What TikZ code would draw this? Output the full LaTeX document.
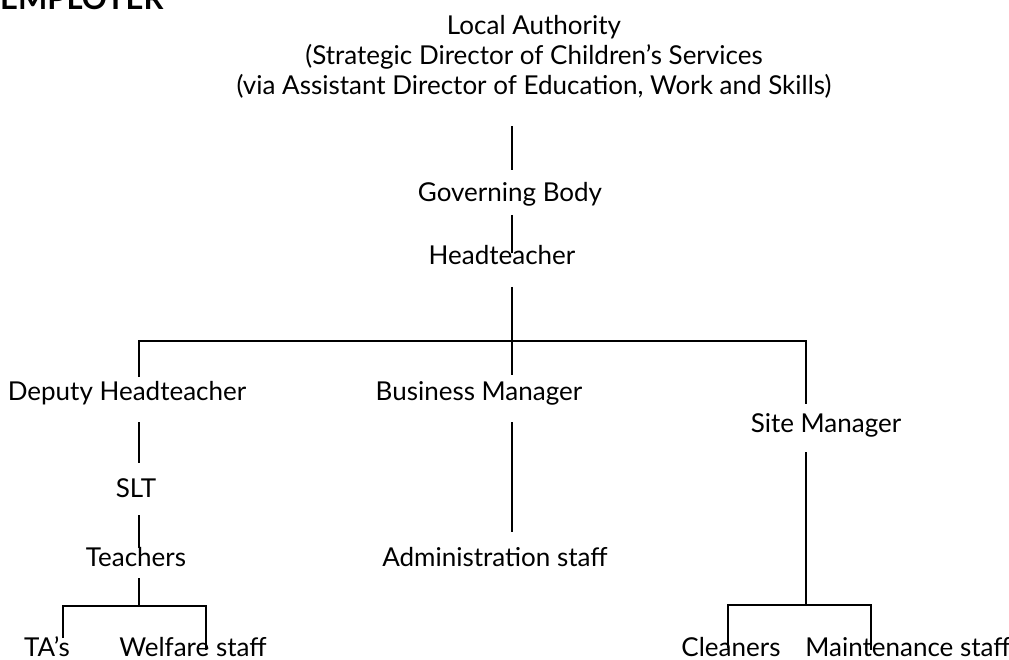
\documentclass[tikz,border=0pt]{standalone}
\usepackage{fontspec}
\setmainfont{Lato}
\tikzset{
  post/.style={anchor=base, inner sep=0pt, font=\fontsize{26}{30}\selectfont},
  link/.style={line width=1.5pt},
}
\begin{document}
\begin{tikzpicture}[x=1pt, y=-1pt]
    \path[use as bounding box, clip] (0,0) rectangle (1009,660);

    % Heading, cut at the top edge
    \node[anchor=base west, inner sep=0pt, font=\fontsize{31}{33}\selectfont\bfseries] (emp) at (0,10) {EMPLOYER};

    % Top of the chain
    \node[anchor=north, inner sep=0pt, align=center, font=\fontsize{26}{30}\selectfont] (la) at (534,15)
        {Local Authority\\(Strategic Director of Children’s Services\\(via Assistant Director of Education, Work and Skills)};
    \node[post] (gb) at (510,202) {Governing Body};
    \node[post] (ht) at (502,265) {Headteacher};

    % Second tier
    \node[post] (dh) at (127,400) {Deputy Headteacher};
    \node[post] (bm) at (479,400) {Business Manager};
    \node[post] (sm) at (826,432) {Site Manager};

    % Lower tiers
    \node[post] (slt) at (136,497) {SLT};
    \node[post] (tea) at (136,566) {Teachers};
    \node[post] (adm) at (495,566) {Administration staff};
    \node[post] (ta) at (47,656) {TA’s};
    \node[post] (wel) at (193,656) {Welfare staff};
    \node[post] (cl) at (731,656) {Cleaners};
    \node[post] (mt) at (908,656) {Maintenance staff};

    % Junctions of the bars
    \coordinate (bar) at (512,341);
    \coordinate (barL) at (139,341);
    \coordinate (barR) at (806,341);
    \coordinate (tbar) at (139,606);
    \coordinate (tbarL) at (63,606);
    \coordinate (tbarR) at (206,606);
    \coordinate (sbar) at (806,605);
    \coordinate (sbarL) at (728,605);
    \coordinate (sbarR) at (871,605);

    % Central trunk
    \draw[link, shorten <=28pt, shorten >=32pt] (la.south -| bar) -- (gb.base -| bar);
    \draw[link, shorten <=13pt, shorten >=12pt] (gb.base -| bar) -- (ht.base -| bar);
    \draw[link, shorten <=22pt, shorten >=25pt] (ht.base -| bar) -- (bm.base -| bar);
    \draw[link, shorten <=23pt, shorten >=28pt] (dh.base -| barL) -- (barL) -- (barR) -- (sm.base -| barR);

    % Left branch
    \draw[link, shorten <=22pt, shorten >=34pt] (dh.base -| barL) -- (slt.base -| barL);
    \draw[link, shorten <=18pt, shorten >=18pt] (slt.base -| barL) -- (tea.base -| barL);
    \draw[link, shorten <=12pt] (tea.base -| barL) -- (tbar);
    \draw[link, shorten <=18pt, shorten >=6pt] (ta.base -| tbarL) -- (tbarL) -- (tbarR) -- (wel.base -| tbarR);

    % Middle branch
    \draw[link, shorten <=22pt, shorten >=34pt] (bm.base -| bar) -- (adm.base -| bar);

    % Right branch
    \draw[link, shorten <=20pt] (sm.base -| barR) -- (sbar);
    \draw[link, shorten <=8pt, shorten >=6pt] (cl.base -| sbarL) -- (sbarL) -- (sbarR) -- (mt.base -| sbarR);
\end{tikzpicture}
\end{document}
